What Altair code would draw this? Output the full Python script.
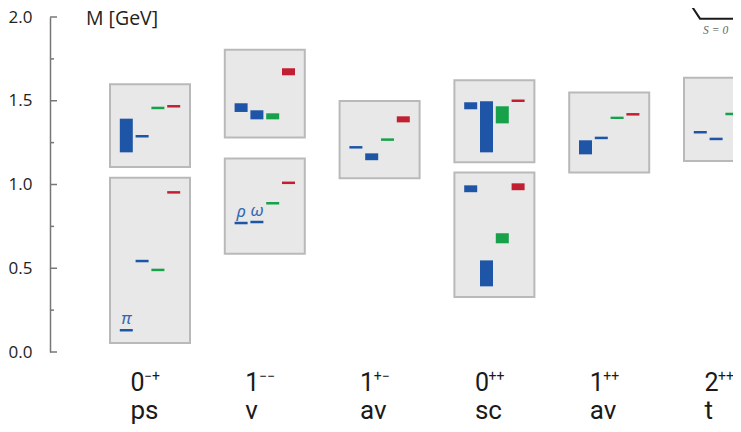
import altair as alt
import pandas as pd

# ---- categories (J^PC and short name) ----
cat_j = ["0", "1", "1", "0", "1", "2"]
cat_pc = ["\u2212+", "\u2212\u2212", "+\u2212", "++", "++", "++"]
cat_name = ["ps", "v", "av", "sc", "av", "t"]

# ---- grey boxes: category index, lower / upper mass [GeV] ----
box_cat = [0, 0, 1, 1, 2, 3, 3, 4, 5]
box_lo = [1.105, 0.054, 1.280, 0.587, 1.037, 1.133, 0.328, 1.071, 1.140]
box_hi = [1.598, 1.041, 1.805, 1.155, 1.499, 1.622, 1.071, 1.549, 1.638]

# ---- mass ranges (filled bars) ----
rng_cat = [0, 1, 1, 1, 1, 2, 2, 3, 3, 3, 3, 3, 3, 3, 4, 4]
rng_slot = [0, 0, 1, 2, 3, 1, 3, 0, 1, 2, 0, 3, 2, 1, 0, 2]
rng_col = ["b", "b", "b", "g", "r", "b", "r", "b", "b", "g", "b", "r", "g", "b", "b", "g"]
rng_lo = [1.192, 1.433, 1.389, 1.389, 1.652, 1.145, 1.371, 1.449, 1.192, 1.365,
          0.954, 0.966, 0.649, 0.392, 1.180, 1.391]
rng_hi = [1.393, 1.485, 1.443, 1.425, 1.694, 1.186, 1.407, 1.491, 1.497, 1.467,
          0.995, 1.007, 0.709, 0.547, 1.264, 1.405]

# ---- single mass levels (thin lines) ----
lvl_cat = [0, 0, 0, 0, 0, 0, 0, 1, 1, 1, 1, 2, 2, 3, 4, 4, 5, 5, 5]
lvl_slot = [1, 2, 3, 3, 1, 2, 0, 3, 2, 0, 1, 0, 2, 3, 1, 3, 0, 1, 2]
lvl_col = ["b", "g", "r", "r", "b", "g", "b", "r", "g", "b", "b", "b", "g", "r",
           "b", "r", "b", "b", "g"]
lvl_m = [1.288, 1.457, 1.467, 0.953, 0.543, 0.490, 0.130, 1.010, 0.888, 0.770,
         0.776, 1.222, 1.268, 1.500, 1.278, 1.419, 1.312, 1.272, 1.421]

# ---- state names ----
nm_cat = [0, 1, 1]
nm_slot = [0, 0, 1]
nm_m = [0.130, 0.770, 0.776]
nm_txt = ["\u03c0", "\u03c1", "\u03c9"]

# ---- legend fragment (top right) ----
leg_x = [4.684, 4.791, 5.3]
leg_y = [2.101, 1.990, 1.990]
leg_lab_x = [4.927]
leg_lab_y = [1.915]
leg_lab = ["S = 0"]

major_ticks = [0.0, 0.5, 1.0, 1.5, 2.0]
minor_ticks = [0.25, 0.75, 1.25, 1.75]

# layout constants (pixels)
SPACING = 114.8
SLOT = 15.8 / SPACING
HALF_BAR = 6.5 / SPACING
HALF_BOX = 40.0 / SPACING
PLOT_W = 683

colors = alt.Scale(domain=["b", "g", "r"], range=["#1f55a6", "#17a14b", "#c21f32"])
xs = alt.Scale(domain=[-100 / SPACING, (PLOT_W - 100) / SPACING], nice=False, zero=False)
ys = alt.Scale(domain=[0, 2], nice=False, zero=False)
yaxis = alt.Axis(values=major_ticks, format=".1f", ticks=False, grid=False,
                 domainColor="#777777", domainWidth=1.5, labelFont="Open Sans",
                 labelFontSize=17, labelColor="#222222", labelPadding=18, title=None)

boxes = pd.DataFrame({"cat": box_cat, "lo": box_lo, "hi": box_hi})
rng = pd.DataFrame({"cat": rng_cat, "slot": rng_slot, "col": rng_col, "lo": rng_lo, "hi": rng_hi})
lvl = pd.DataFrame({"cat": lvl_cat, "slot": lvl_slot, "col": lvl_col, "m": lvl_m})
nms = pd.DataFrame({"cat": nm_cat, "slot": nm_slot, "m": nm_m, "t": nm_txt})
cats = pd.DataFrame({"cat": list(range(len(cat_j))), "j": cat_j, "pc": cat_pc, "n": cat_name})
leg = pd.DataFrame({"x": leg_x, "y": leg_y, "o": list(range(len(leg_x)))})
legl = pd.DataFrame({"x": leg_lab_x, "y": leg_lab_y, "t": leg_lab})
majt = pd.DataFrame({"v": major_ticks})
mint = pd.DataFrame({"v": minor_ticks})

box_layer = alt.Chart(boxes).mark_rect(
    fill="#e7e8e7", stroke="#b9b9b9", strokeWidth=2, clip=True
).transform_calculate(
    xl=f"datum.cat - {HALF_BOX}", xr=f"datum.cat + {HALF_BOX}"
).encode(
    x=alt.X("xl:Q", scale=xs, axis=None), x2="xr:Q",
    y=alt.Y("lo:Q", scale=ys, axis=yaxis), y2="hi:Q",
)

slot_calc = dict(
    xc=f"datum.cat + (datum.slot - 1.5) * {SLOT}",
)

rng_layer = alt.Chart(rng).mark_rect(clip=True).transform_calculate(**slot_calc).transform_calculate(
    xl=f"datum.xc - {HALF_BAR}", xr=f"datum.xc + {HALF_BAR}"
).encode(
    x=alt.X("xl:Q", scale=xs, axis=None), x2="xr:Q",
    y=alt.Y("lo:Q", scale=ys, axis=yaxis), y2="hi:Q",
    color=alt.Color("col:N", scale=colors, legend=None),
)

lvl_layer = alt.Chart(lvl).mark_rule(strokeWidth=2.5, strokeCap="butt", clip=True).transform_calculate(
    **slot_calc).transform_calculate(
    xl=f"datum.xc - {HALF_BAR}", xr=f"datum.xc + {HALF_BAR}"
).encode(
    x=alt.X("xl:Q", scale=xs, axis=None), x2="xr:Q",
    y=alt.Y("m:Q", scale=ys, axis=yaxis),
    color=alt.Color("col:N", scale=colors, legend=None),
)

nm_layer = alt.Chart(nms).mark_text(
    font="Noto Sans", fontStyle="italic", fontSize=17, color="#3566b5",
    baseline="alphabetic", align="center", dy=-6.5
).transform_calculate(**slot_calc).encode(
    x=alt.X("xc:Q", scale=xs, axis=None),
    y=alt.Y("m:Q", scale=ys, axis=yaxis),
    text="t:N",
)

maj_layer = alt.Chart(majt).mark_rule(color="#777777", strokeWidth=1.5).encode(
    y=alt.Y("v:Q", scale=ys, axis=yaxis), x=alt.value(0), x2=alt.value(7)
)
min_layer = alt.Chart(mint).mark_rule(color="#777777", strokeWidth=1.5).encode(
    y=alt.Y("v:Q", scale=ys, axis=yaxis), x=alt.value(0), x2=alt.value(4)
)

ytitle = alt.Chart(pd.DataFrame({"t": ["M [GeV]"]})).mark_text(
    font="Open Sans", fontSize=19.5, color="#222222", align="left", baseline="alphabetic"
).encode(x=alt.value(36), y=alt.value(8), text="t:N")

lab_font = "Roboto"
LAB_DX = -19.5
j_layer = alt.Chart(cats).mark_text(
    font=lab_font, fontSize=25, color="#1a1a1a", align="left", baseline="alphabetic", dx=LAB_DX
).encode(x=alt.X("cat:Q", scale=xs, axis=None), y=alt.value(374), text="j:N")
pc_layer = alt.Chart(cats).mark_text(
    font=lab_font, fontSize=14, color="#1a1a1a", align="left", baseline="alphabetic",
    dx=LAB_DX + 13.6
).encode(x=alt.X("cat:Q", scale=xs, axis=None), y=alt.value(364), text="pc:N")
n_layer = alt.Chart(cats).mark_text(
    font=lab_font, fontSize=26, color="#1a1a1a", align="left", baseline="alphabetic", dx=LAB_DX
).encode(x=alt.X("cat:Q", scale=xs, axis=None), y=alt.value(402), text="n:N")

leg_line = alt.Chart(leg).mark_line(color="#1a1a1a", strokeWidth=2).encode(
    x=alt.X("x:Q", scale=xs, axis=None), y=alt.Y("y:Q", scale=ys, axis=yaxis), order="o:Q"
)
leg_text = alt.Chart(legl).mark_text(
    font="Liberation Serif", fontStyle="italic", fontSize=11.5, color="#666666", align="center"
).encode(x=alt.X("x:Q", scale=xs, axis=None), y=alt.Y("y:Q", scale=ys, axis=yaxis), text="t:N")

chart = alt.layer(
    box_layer, rng_layer, lvl_layer, nm_layer, maj_layer, min_layer, ytitle,
    j_layer, pc_layer, n_layer, leg_line, leg_text
).properties(
    width=PLOT_W, height=335,
    autosize=alt.AutoSizeParams(type="none"),
    padding={"left": 42, "top": 9, "right": 0, "bottom": 72},
    background="white",
).configure_view(stroke=None)

chart.save("out.html", embed_options={"renderer": "svg", "actions": False})
